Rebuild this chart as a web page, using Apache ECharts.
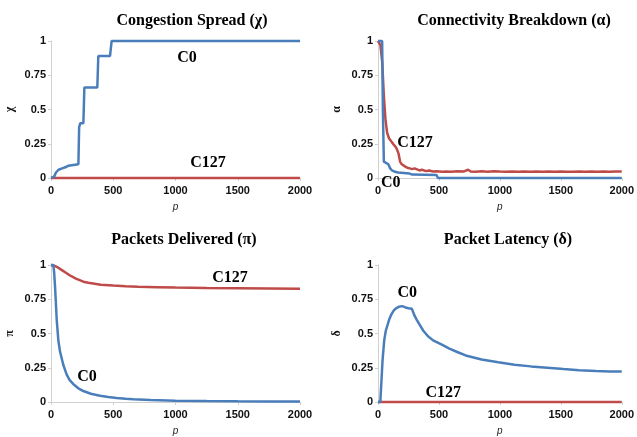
<!DOCTYPE html>
<html lang="en">
<head>
    <meta charset="UTF-8">
    <title>Congestion metrics</title>
    <script src="https://cdnjs.cloudflare.com/ajax/libs/echarts/6.0.0/echarts.min.js"></script>
</head>
<body style="margin:0;background:#fff">
    <div id="myChart" style="width:637px;height:437px;"></div>

    <script>
        // x tick labels / axis ticks
        const xTicks = [0, 500, 1000, 1500, 2000];
        const yTicks = [0, 0.25, 0.5, 0.75, 1];

        // Congestion Spread (chi)
        const chiC0 = [[0,0],[25,0.01],[40,0.04],[60,0.06],[90,0.07],[120,0.08],[140,0.09],[150,0.1],[220,0.1],[226,0.37],[235,0.4],[260,0.4],[268,0.66],[372,0.66],[380,0.89],[474,0.89],[487,1],[2000,1]];
        const chiC127 = [[0,0],[2000,0]];

        // Connectivity Breakdown (alpha)
        const alphaC0 = [[0,1],[34,1],[40,0.5],[48,0.12],[60,0.11],[85,0.1],[100,0.07],[115,0.055],[140,0.045],[165,0.04],[260,0.032],[280,0.025],[480,0.022],[492,0],[2000,0]];
        const alphaC127 = [[0,1],[20,0.97],[35,0.84],[48,0.6],[61,0.43],[75,0.33],[90,0.29],[101,0.28],[115,0.26],[128,0.245],[142,0.23],[155,0.21],[168,0.18],[181,0.12],[195,0.1],[208,0.09],[221,0.085],[240,0.075],[261,0.07],[280,0.065],[300,0.07],[315,0.06],[340,0.055],[360,0.06],[395,0.05],[420,0.055],[450,0.048],[480,0.05],[528,0.045],[560,0.048],[600,0.046],[650,0.05],[700,0.047],[740,0.06],[760,0.048],[800,0.046],[850,0.049],[900,0.046],[950,0.05],[1000,0.047],[1050,0.045],[1100,0.048],[1150,0.046],[1200,0.047],[1250,0.045],[1300,0.048],[1350,0.046],[1400,0.047],[1450,0.045],[1500,0.048],[1550,0.046],[1600,0.045],[1650,0.048],[1700,0.046],[1750,0.047],[1800,0.045],[1850,0.048],[1900,0.046],[1950,0.047],[2000,0.048]];

        // Packets Delivered (pi)
        const piC0 = [[0,1],[19,1],[25,0.95],[32,0.85],[46,0.6],[59,0.45],[72,0.37],[99,0.27],[126,0.2],[150,0.16],[180,0.13],[220,0.1],[260,0.08],[320,0.06],[394,0.045],[460,0.036],[527,0.03],[600,0.024],[661,0.02],[800,0.015],[1000,0.01],[1250,0.007],[1500,0.005],[1750,0.004],[2000,0.003]];
        const piC127 = [[0,1],[25,0.995],[50,0.985],[75,0.97],[100,0.955],[126,0.94],[150,0.925],[200,0.9],[260,0.878],[300,0.87],[400,0.856],[500,0.85],[600,0.845],[700,0.841],[850,0.838],[1000,0.835],[1250,0.832],[1500,0.83],[1750,0.828],[2000,0.826]];

        // Packet Latency (delta)
        const deltaC0 = [[0,0],[19,0],[28,0.15],[37,0.3],[51,0.45],[64,0.52],[91,0.6],[110,0.64],[131,0.67],[150,0.685],[171,0.695],[198,0.7],[225,0.69],[251,0.685],[278,0.68],[300,0.63],[318,0.6],[345,0.56],[372,0.52],[410,0.48],[452,0.45],[520,0.42],[586,0.39],[650,0.365],[719,0.34],[850,0.31],[987,0.29],[1120,0.272],[1254,0.26],[1390,0.25],[1522,0.24],[1650,0.232],[1789,0.226],[1900,0.223],[2000,0.222]];
        const deltaC127 = [[0,0],[2000,0]];

        const titles = ['Congestion Spread (\u03c7)', 'Connectivity Breakdown (\u03b1)', 'Packets Delivered (\u03c0)', 'Packet Latency (\u03b4)'];
        const yNames = ['\u03c7', '\u03b1', '\u03c0', '\u03b4'];
        // annotation label spots in data space: [x, y, pixel nudge down]
        const labelC0 = [[1092,0.88,0],[104,0,5],[289,0.18,0],[240,0.8,0]];
        const labelC127 = [[1261,0.11,0],[304,0.255,0],[1438,0.905,0],[536,0.066,0]];

        const blue = '#4a7ebb';
        const red = '#be4b48';
        const grids = [
            {left: 51, top: 41, width: 249, height: 137},
            {left: 378, top: 41, width: 250, height: 137},
            {left: 51, top: 265, width: 249, height: 137},
            {left: 378, top: 265, width: 250, height: 137}
        ];
        const titlePos = [[187, 8], [509, 8], [179, 227], [503, 227]];

        const chartDom = document.getElementById('myChart');
        const myChart = echarts.init(chartDom);

        function xAxisFor(i) {
            return {
                gridIndex: i, type: 'value', min: 0, max: 2000, interval: 500,
                name: 'p', nameLocation: 'middle', nameGap: 24,
                nameTextStyle: {fontStyle: 'italic', fontSize: 10, color: '#222', fontFamily: 'Liberation Sans'},
                axisLine: {show: true, lineStyle: {color: '#d0d0d0', width: 1}},
                axisTick: {show: true, length: 3, lineStyle: {color: '#d0d0d0'}},
                axisLabel: {fontSize: 11, fontWeight: 'bold', color: '#111', fontFamily: 'Liberation Sans', margin: 7,
                    formatter: v => String(v)},
                splitLine: {show: false}
            };
        }
        function yAxisFor(i) {
            return {
                gridIndex: i, type: 'value', min: 0, max: 1, interval: 0.25,
                name: yNames[i], nameLocation: 'middle', nameGap: 35, nameRotate: 90,
                nameTextStyle: {fontSize: 12, fontWeight: 'bold', color: '#111', fontFamily: 'Liberation Serif'},
                axisLine: {show: true, lineStyle: {color: '#d0d0d0', width: 1}},
                axisTick: {show: true, length: 3, lineStyle: {color: '#d0d0d0'}},
                axisLabel: {fontSize: 11, fontWeight: 'bold', color: '#111', fontFamily: 'Liberation Sans', margin: 5,
                    formatter: v => String(v)},
                splitLine: {show: false}
            };
        }
        function markFor(i, which) {
            const spot = which === 'C0' ? labelC0[i] : labelC127[i];
            return {
                silent: true, symbol: 'circle', symbolSize: 0,
                label: {show: true, position: 'inside', formatter: which, color: '#000',
                    fontFamily: 'Liberation Serif', fontWeight: 'bold', fontSize: 16, offset: [0, spot[2]]},
                data: [{coord: [spot[0], spot[1]]}]
            };
        }
        const allData = [[chiC0, chiC127], [alphaC0, alphaC127], [piC0, piC127], [deltaC0, deltaC127]];

        const series = [];
        allData.forEach((pair, i) => {
            series.push({
                name: 'C127', type: 'line', xAxisIndex: i, yAxisIndex: i, data: pair[1],
                showSymbol: false, lineStyle: {color: red, width: 2.5}, itemStyle: {color: red},
                clip: false, markPoint: markFor(i, 'C127')
            });
            series.push({
                name: 'C0', type: 'line', xAxisIndex: i, yAxisIndex: i, data: pair[0],
                showSymbol: false, lineStyle: {color: blue, width: 2.5}, itemStyle: {color: blue},
                clip: false, markPoint: markFor(i, 'C0')
            });
        });

        const option = {
            animation: false,
            title: titles.map((t, i) => ({
                text: t, left: titlePos[i][0], top: titlePos[i][1], textAlign: 'center',
                textStyle: {fontFamily: 'Liberation Serif', fontWeight: 'bold', fontSize: 16, color: '#000'}
            })),
            grid: grids,
            xAxis: [0, 1, 2, 3].map(xAxisFor),
            yAxis: [0, 1, 2, 3].map(yAxisFor),
            series: series
        };
        myChart.setOption(option);
    </script>
</body>
</html>
